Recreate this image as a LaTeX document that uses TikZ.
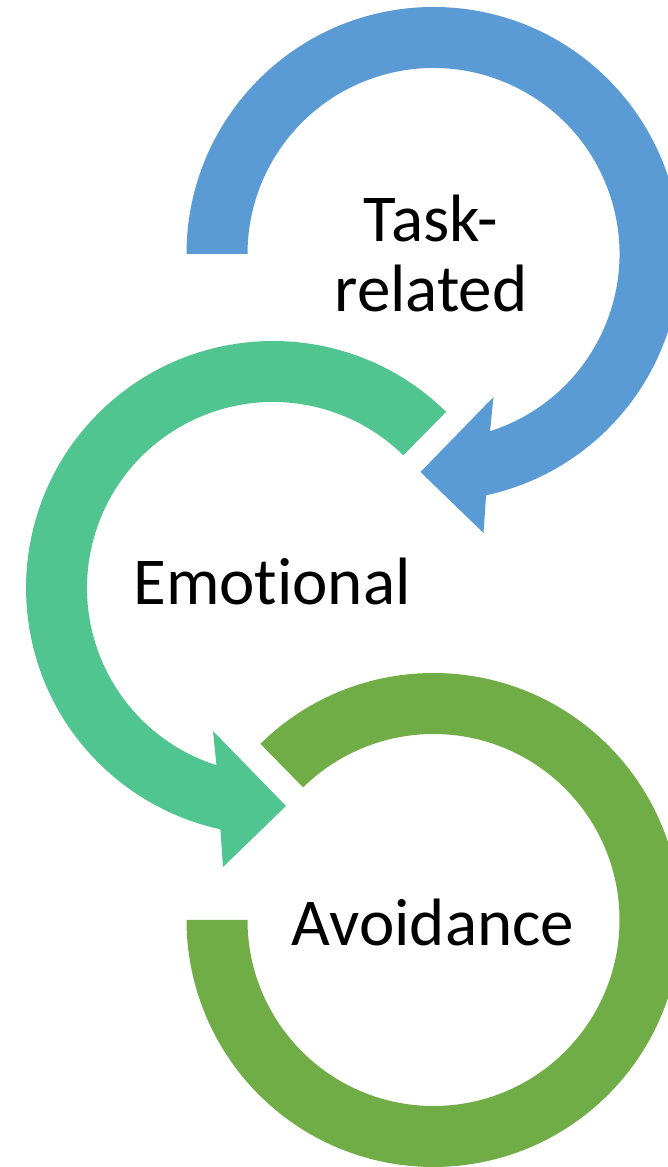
\documentclass[tikz,border=0pt]{standalone}
\usepackage{fontspec}
\setmainfont{Carlito}[Ligatures=NoCommon]
\definecolor{cblue}{RGB}{91,155,213}
\definecolor{cteal}{RGB}{80,197,143}
\definecolor{cgreen}{RGB}{112,173,71}
\begin{document}
\begin{tikzpicture}[x=1pt,y=1pt,
  lbl/.style={font=\fontsize{67}{70}\selectfont, inner sep=0pt, align=center, text=black}]
\useasboundingbox (0,0) rectangle (667,1167);
\coordinate (cb) at (433.5,913);
\coordinate (ct) at (273,579);
\coordinate (cg) at (433.5,247);
% blue circular arrow
\fill[cblue] ([shift={(180:247)}]cb) arc[start angle=180, end angle=-77.7, radius=247]
  -- ([shift={(50,-279)}]cb) -- ([shift={(-13,-218)}]cb) -- ([shift={(60,-143)}]cb)
  -- ([shift={(-72.3:186)}]cb) arc[start angle=-72.3, end angle=180, radius=186] -- cycle;
% teal circular arrow
\fill[cteal] ([shift={(45.5:247)}]ct) arc[start angle=45.5, end angle=257.7, radius=247]
  -- ([shift={(-50,-279)}]ct) -- ([shift={(13,-218)}]ct) -- ([shift={(-60,-143)}]ct)
  -- ([shift={(252.3:186)}]ct) arc[start angle=252.3, end angle=45.5, radius=186] -- cycle;
% green arc
\fill[cgreen] ([shift={(134.5:247)}]cg) arc[start angle=134.5, end angle=-180, radius=247]
  -- ([shift={(-180:186)}]cg) arc[start angle=-180, end angle=134.5, radius=186] -- cycle;
\node[lbl, anchor=base] (t1) at (431,855) {Task-\\related};
\node[lbl, anchor=base] (t2) at (272,562) {Emotional};
\node[lbl, anchor=base] (t3) at (433,221) {Avoidance};
\end{tikzpicture}
\end{document}
